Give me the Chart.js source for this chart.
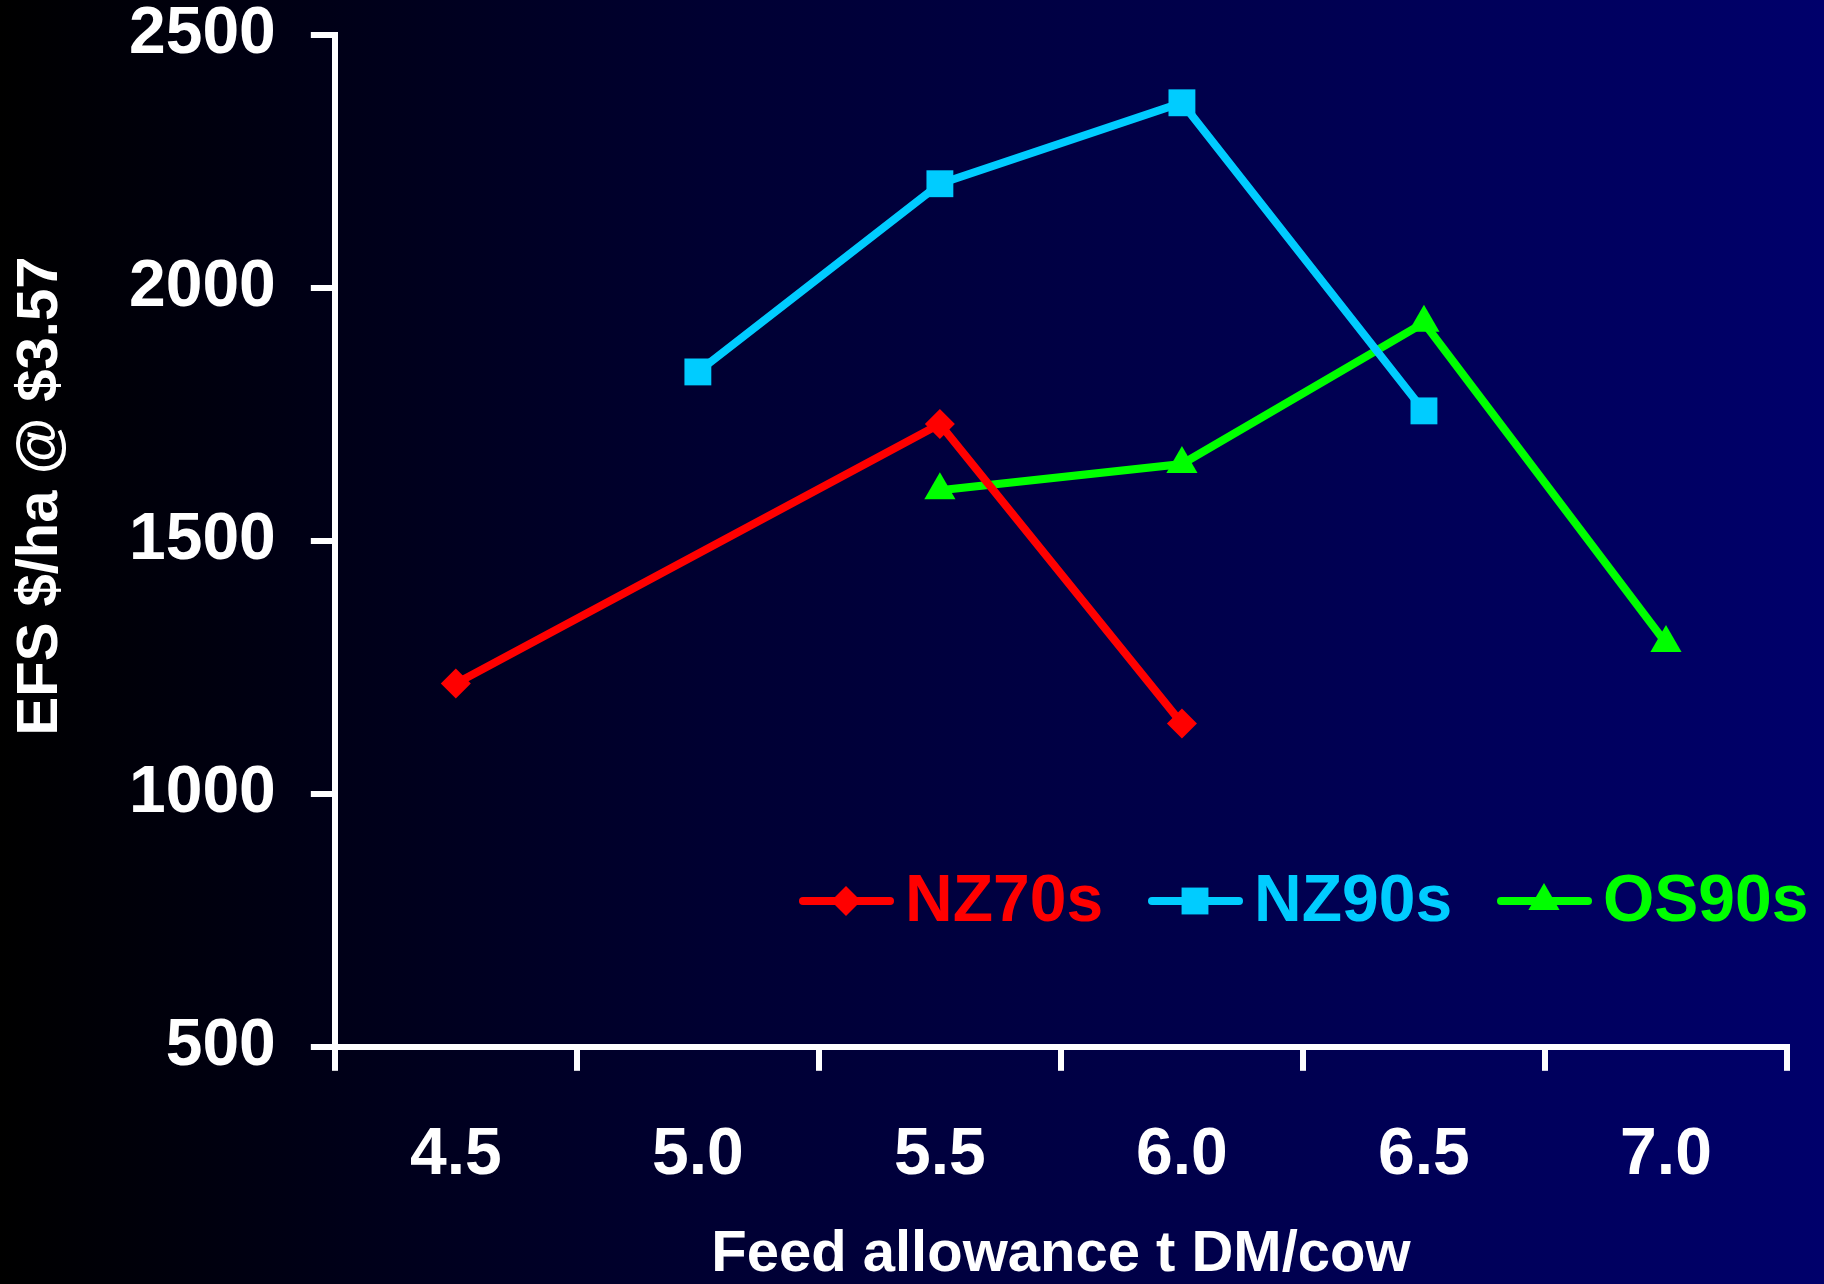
<!DOCTYPE html>
<html>
<head>
<meta charset="utf-8">
<script src="https://cdn.jsdelivr.net/npm/chart.js@4.4.1/dist/chart.umd.min.js"></script>
<style>
    html, body { margin: 0; padding: 0; }
    body { background: linear-gradient(to right, #000000 0%, #000033 40%, #00006b 100%); }
    #wrap { width: 1824px; height: 1284px; position: relative; }
</style>
</head>
<body>
<div id="wrap"><canvas id="efsChart"></canvas></div>
<script>
// feed allowance categories (t DM/cow)
const feedLabels = ['4.5', '5.0', '5.5', '6.0', '6.5', '7.0'];

// EFS $/ha
const nz70s = [1218, null, 1731, 1139, null, null];
const nz90s = [null, 1834, 2206, 2366, 1757, null];
const os90s = [null, null, 1600, 1652, 1931, 1298];

const yTicks = [500, 1000, 1500, 2000, 2500];

const FONT = "'Liberation Sans', Arial, sans-serif";

// legend drawn inside the plot: line + marker + coloured name
const insideLegend = {
    id: 'insideLegend',
    afterDraw(chart) {
        const ctx = chart.ctx;
        const y = 901;
        let x = 803;
        chart.data.datasets.forEach(ds => {
            ctx.save();
            ctx.strokeStyle = ds.borderColor;
            ctx.lineWidth = 8;
            ctx.lineCap = 'round';
            ctx.beginPath();
            ctx.moveTo(x, y);
            ctx.lineTo(x + 87, y);
            ctx.stroke();
            ctx.fillStyle = ds.borderColor;
            Chart.helpers.drawPoint(ctx, {
                pointStyle: ds.pointStyle,
                radius: ds.pointRadius,
                rotation: 0,
                borderWidth: 0
            }, x + 43, y);
            ctx.font = 'bold 66px ' + FONT;
            ctx.textBaseline = 'middle';
            ctx.textAlign = 'left';
            ctx.fillText(ds.label, x + 102, y + 2);
            ctx.restore();
            x += 349;
        });

        // y axis title
        ctx.save();
        ctx.translate(41, 496);
        ctx.rotate(-Math.PI / 2);
        ctx.fillStyle = '#ffffff';
        ctx.font = 'bold 58px ' + FONT;
        ctx.textAlign = 'center';
        ctx.textBaseline = 'middle';
        ctx.fillText('EFS $/ha @ $3.57', 0, 0);
        ctx.restore();
    }
};

function lineSet(label, data, color, style, radius) {
    return {
        label: label,
        data: data,
        borderColor: color,
        backgroundColor: color,
        pointBackgroundColor: color,
        pointBorderColor: color,
        pointBorderWidth: 0,
        pointStyle: style,
        pointRadius: radius,
        pointHoverRadius: radius,
        borderWidth: 8,
        spanGaps: true,
        tension: 0,
        clip: false
    };
}

new Chart(document.getElementById('efsChart'), {
    type: 'line',
    data: {
        labels: feedLabels,
        datasets: [
            lineSet('NZ70s', nz70s, '#ff0000', 'rectRot', 15),
            lineSet('NZ90s', nz90s, '#00ccff', 'rect', 19),
            lineSet('OS90s', os90s, '#00ff00', 'triangle', 18)
        ]
    },
    options: {
        responsive: true,
        maintainAspectRatio: false,
        animation: false,
        layout: { padding: { top: 35, right: 37, bottom: 0, left: 94 } },
        plugins: {
            legend: { display: false },
            tooltip: { enabled: false }
        },
        scales: {
            x: {
                type: 'category',
                offset: true,
                border: { display: true, color: '#ffffff', width: 6 },
                grid: {
                    offset: true,
                    drawOnChartArea: false,
                    color: '#ffffff',
                    lineWidth: 6,
                    tickLength: 24
                },
                ticks: {
                    color: '#ffffff',
                    padding: 45,
                    font: { family: FONT, size: 66, weight: 'bold', lineHeight: 1.2 }
                },
                title: {
                    display: true,
                    text: 'Feed allowance t DM/cow',
                    color: '#ffffff',
                    padding: { top: -14, bottom: 0 },
                    font: { family: FONT, size: 58, weight: 'bold', lineHeight: 1.0 }
                }
            },
            y: {
                min: 500,
                max: 2500,
                afterBuildTicks(scale) {
                    scale.ticks = yTicks.map(v => ({ value: v }));
                },
                afterFit(scale) {
                    // let the top label overhang the plot like the original
                    scale.paddingTop = 0;
                    scale.paddingBottom = 0;
                },
                border: { display: true, color: '#ffffff', width: 6 },
                grid: {
                    drawOnChartArea: false,
                    color: '#ffffff',
                    lineWidth: 6,
                    tickLength: 24
                },
                ticks: {
                    color: '#ffffff',
                    padding: 35,
                    callback: v => String(v),
                    font: { family: FONT, size: 66, weight: 'bold', lineHeight: 1.0 }
                }
            }
        }
    },
    plugins: [insideLegend]
});
</script>
</body>
</html>
